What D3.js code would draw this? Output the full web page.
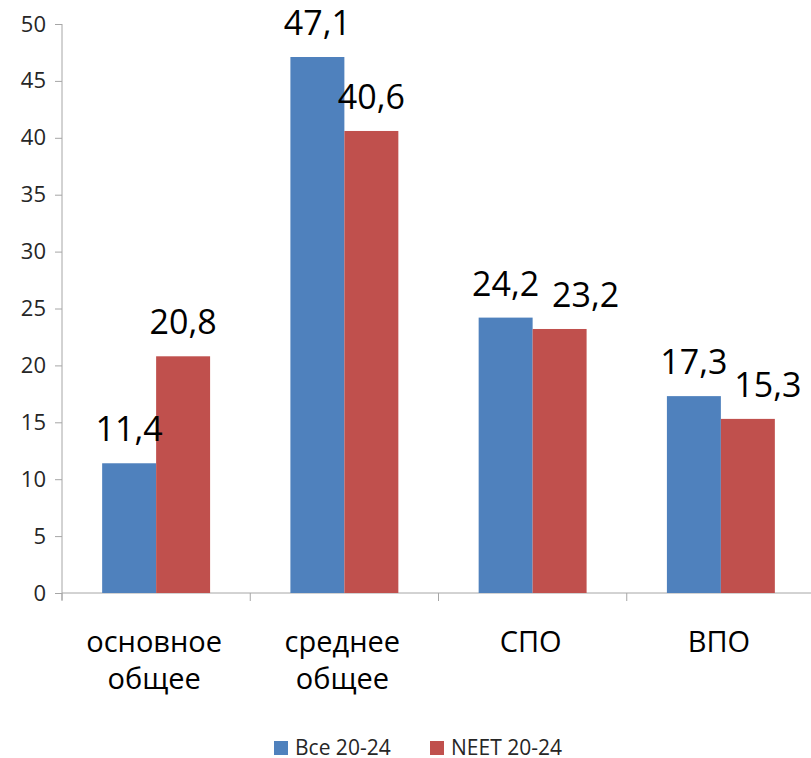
<!DOCTYPE html>
<meta charset="utf-8">
<script src="https://cdn.jsdelivr.net/npm/d3@7"></script>
<style>
body { margin: 0; background: #fff; }
text { font-family: "Open Sans", sans-serif; }
</style>
<body>
<script>

// data
var categories = [["основное", "общее"], ["среднее", "общее"], ["СПО"], ["ВПО"]];
var seriesNames = ["Все 20-24", "NEET 20-24"];
var allValues = [11.4, 47.1, 24.2, 17.3];
var neetValues = [20.8, 40.6, 23.2, 15.3];
var yTicks = [0, 5, 10, 15, 20, 25, 30, 35, 40, 45, 50];

var colors = ["#4F81BD", "#C0504D"];
// Excel moved a couple of the red labels sideways so they don't collide
var labelShift = [[0, 0, 0, 0], [0, 0, 26, 20]];

var width = 811, height = 758;
var svg = d3.select("body").append("svg")
    .attr("width", width)
    .attr("height", height);

var catIdx = categories.map(function(d, i) { return i; });
var x0 = d3.scaleBand().domain(catIdx).range([62, 815]);
var x1 = d3.scaleBand().domain([0, 1]).range([0, x0.bandwidth()]).paddingOuter(0.744);
var y = d3.scaleLinear().domain([0, 50]).range([593, 24]);

var fmt = function(v) { return String(v).replace(".", ","); };

// y axis
var yAxis = svg.append("g")
    .attr("transform", "translate(62,0)")
    .call(d3.axisLeft(y).tickValues(yTicks).tickSize(7).tickPadding(9));
yAxis.select(".domain").attr("stroke", "#a6a6a6").attr("d", "M0,24V600");
yAxis.selectAll(".tick line").attr("stroke", "#a6a6a6");
yAxis.selectAll(".tick text")
    .attr("font-size", "22px")
    .attr("fill", "#262626")
    .attr("font-family", "'Open Sans', sans-serif");

// x axis line and category separators
svg.append("line")
    .attr("x1", 62).attr("x2", width)
    .attr("y1", y(0)).attr("y2", y(0))
    .attr("stroke", "#a6a6a6");
svg.selectAll(".xtick")
    .data(catIdx)
    .enter().append("line")
    .attr("class", "xtick")
    .attr("x1", function(d) { return x0(d); })
    .attr("x2", function(d) { return x0(d); })
    .attr("y1", y(0)).attr("y2", y(0) + 8)
    .attr("stroke", "#a6a6a6");

// bars
var seriesData = [allValues, neetValues];
seriesData.forEach(function(vals, s) {
  svg.selectAll(".bar" + s)
      .data(vals)
      .enter().append("rect")
      .attr("class", "bar" + s)
      .attr("x", function(d, i) { return x0(i) + x1(s); })
      .attr("width", x1.bandwidth())
      .attr("y", function(d) { return y(d); })
      .attr("height", function(d) { return y(0) - y(d); })
      .attr("fill", colors[s]);
});

// value labels
seriesData.forEach(function(vals, s) {
  svg.selectAll(".lab" + s)
      .data(vals)
      .enter().append("text")
      .attr("class", "lab" + s)
      .attr("x", function(d, i) { return x0(i) + x1(s) + x1.bandwidth() / 2 + labelShift[s][i]; })
      .attr("y", function(d) { return y(d) - 22; })
      .attr("text-anchor", "middle")
      .attr("font-size", "34px")
      .attr("fill", "#000")
      .text(fmt);
});

// category labels
var cat = svg.selectAll(".cat")
    .data(categories)
    .enter().append("text")
    .attr("class", "cat")
    .attr("text-anchor", "middle")
    .attr("font-size", "29px")
    .attr("fill", "#000");
cat.selectAll("tspan")
    .data(function(d, i) { return d.map(function(t) { return {t: t, i: i}; }); })
    .enter().append("tspan")
    .attr("x", function(d) { return x0(d.i) + x0.bandwidth() / 2 - 2; })
    .attr("y", function(d, j) { return 652 + j * 37; })
    .text(function(d) { return d.t; });

// legend
var legendX = [274, 430];
var legend = svg.selectAll(".legend")
    .data(seriesNames)
    .enter().append("g")
    .attr("class", "legend")
    .attr("transform", function(d, i) { return "translate(" + legendX[i] + ",741)"; });
legend.append("rect")
    .attr("width", 14)
    .attr("height", 14)
    .attr("fill", function(d, i) { return colors[i]; });
legend.append("text")
    .attr("x", 21)
    .attr("y", 14)
    .attr("font-size", "21px")
    .attr("fill", "#262626")
    .text(String);

</script>
</body>
</html>
